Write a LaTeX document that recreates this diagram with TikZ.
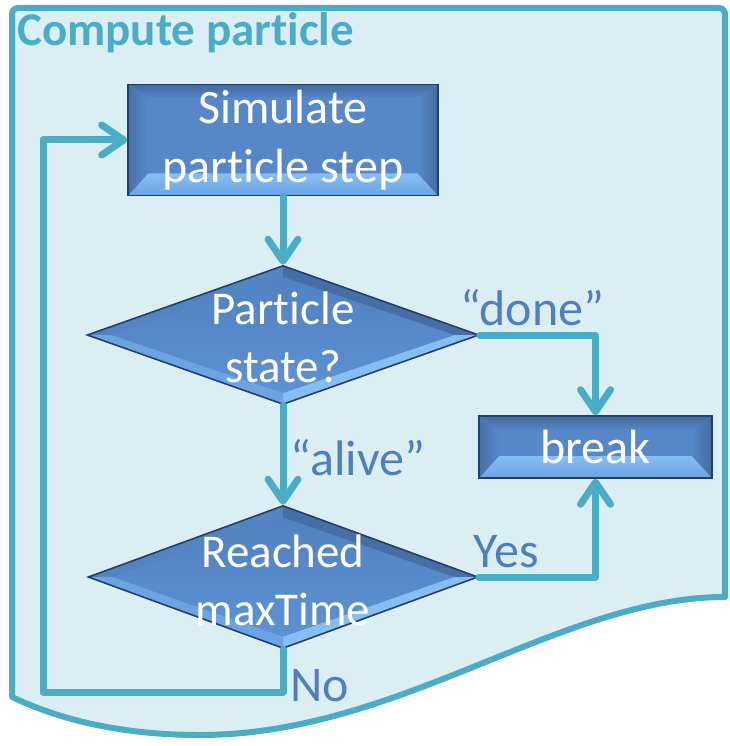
\documentclass[tikz,border=0pt]{standalone}
\usepackage{fontspec}
\setmainfont{Carlito}[Ligatures=NoCommon]
\usetikzlibrary{shapes.geometric,arrows.meta,calc}
\definecolor{lineC}{HTML}{4BACC6}
\definecolor{bgC}{HTML}{DBEEF4}
\definecolor{lblC}{HTML}{4F7FBE}
\definecolor{faceC}{HTML}{5688C9}
\definecolor{faceTop}{HTML}{5080C0}
\definecolor{faceBot}{HTML}{5E93D5}
\definecolor{bandDark}{HTML}{44699F}
\definecolor{bandMid}{HTML}{5584C3}
\definecolor{bandLight}{HTML}{86BEF4}
\definecolor{bandLight2}{HTML}{6CA3E2}
\definecolor{boxEdge}{HTML}{23406C}
\tikzset{
  bevelrect/.style={draw=boxEdge, line width=1.6pt, fill=faceC,
    path picture={
      \coordinate (bNW) at (path picture bounding box.north west);
      \coordinate (bNE) at (path picture bounding box.north east);
      \coordinate (bSW) at (path picture bounding box.south west);
      \coordinate (bSE) at (path picture bounding box.south east);
      \coordinate (iNW) at ($(bNW)+(20pt,-13pt)$);
      \coordinate (iNE) at ($(bNE)+(-20pt,-13pt)$);
      \coordinate (iSW) at ($(bSW)+(20pt,22pt)$);
      \coordinate (iSE) at ($(bSE)+(-20pt,22pt)$);
      \shade[top color=bandDark, bottom color=bandMid] (bNW) -- (bNE) -- (iNE) -- (iNW) -- cycle;
      \shade[top color=bandLight, bottom color=bandLight2] (iSW) -- (iSE) -- (bSE) -- (bSW) -- cycle;
      \shade[left color=bandMid!85!black, right color=faceC] (bNW) -- (iNW) -- (iSW) -- (bSW) -- cycle;
      \shade[left color=faceC, right color=bandMid!80!black] (bNE) -- (iNE) -- (iSE) -- (bSE) -- cycle;
    }},
  bevelkite/.style={draw=boxEdge, line width=1.6pt, top color=faceTop, bottom color=faceBot,
    path picture={
      \coordinate (kN) at (path picture bounding box.north);
      \coordinate (kS) at (path picture bounding box.south);
      \coordinate (kE) at (path picture bounding box.east);
      \coordinate (kW) at (path picture bounding box.west);
      \coordinate (kC) at (path picture bounding box.center);
      \coordinate (jN) at ($(kC)!0.84!(kN)$);
      \coordinate (jS) at ($(kC)!0.84!(kS)$);
      \coordinate (jE) at ($(kC)!0.88!(kE)$);
      \coordinate (jW) at ($(kC)!0.88!(kW)$);
      \fill[bandMid] (kW) -- (kN) -- (jN) -- (jW) -- cycle;
      \fill[bandDark!85!faceC] (kN) -- (kE) -- (jE) -- (jN) -- cycle;
      \fill[bandLight] (kE) -- (kS) -- (jS) -- (jE) -- cycle;
      \fill[bandLight2] (kS) -- (kW) -- (jW) -- (jS) -- cycle;
    }},
  procbox/.style={bevelrect, rectangle, inner sep=0pt, align=center, text=white,
    font=\fontsize{48}{59}\selectfont},
  decbox/.style={bevelkite, diamond, inner sep=0pt},
  btext/.style={align=center, text=white, font=\fontsize{47}{58}\selectfont},
  conn/.style={draw=lineC, line width=7pt, line cap=round, line join=round,
    -{Straight Barb[length=22pt,width=30pt,round]}},
  lbl/.style={text=lblC, font=\fontsize{50}{58}\selectfont, inner sep=4pt},
}
\begin{document}
\begin{tikzpicture}[x=1pt,y=-1pt]
\useasboundingbox (0,0) rectangle (729,746);
% document shape
\path[fill=bgC, draw=lineC, line width=6pt, line join=round]
  (12,697) -- (12,16) [rounded corners=6pt] -- (12,8) -- (725,8) [sharp corners] -- (725,597)
  .. controls (560,597) and (400,735) .. (200,735)
  .. controls (110,735) and (50,715) .. (12,697) -- cycle;
% title
\node[anchor=west, text=lineC, font=\bfseries\fontsize{47}{52}\selectfont, inner sep=0pt] (title) at (17,33) {Compute particle};
% nodes
\node[procbox, minimum width=310pt, minimum height=111pt] (sim) at (283,140) {Simulate\\particle step};
\node[decbox, minimum width=392pt, minimum height=139pt] (st) at (283,335) {};
\node[btext] (stt) at (283,337) {Particle\\state?};
\node[procbox, minimum width=233pt, minimum height=62pt] (brk) at (595.5,447) {break};
\node[decbox, minimum width=390pt, minimum height=143pt] (mt) at (283,577) {};
\node[btext] (mtt) at (283,580) {Reached\\maxTime};
\coordinate (lp) at (43,692);
% connectors
\draw[conn] (sim.south) -- (st.north);
\draw[conn] (st.east) -| (brk.north) node[lbl, pos=0.25, above, xshift=-5pt, yshift=2pt] {“done”};
\draw[conn] (st.south) -- (mt.north) node[lbl, midway, right, xshift=0pt, yshift=-3pt] {“alive”};
\draw[conn] (mt.east) -| (brk.south) node[lbl, pos=0.25, above, xshift=-31pt, yshift=2pt] {Yes};
\draw[conn] (mt.south) |- (lp) |- (sim.west);
\node[lbl, anchor=west] (no) at (286,686) {No};
\end{tikzpicture}
\end{document}
